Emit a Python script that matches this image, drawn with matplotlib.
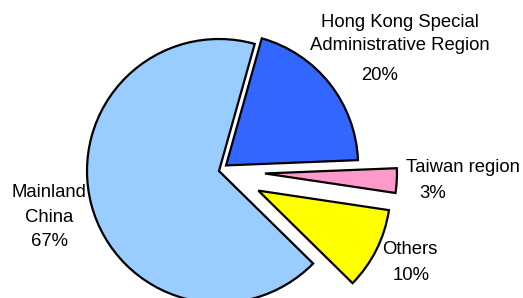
import matplotlib
matplotlib.use('Agg')
import matplotlib.pyplot as plt

plt.rcParams['font.family'] = ['Liberation Sans', 'DejaVu Sans']

# dati (percentuali)
regioni = ['Hong Kong Special\nAdministrative Region', 'Taiwan region', 'Others', 'Mainland\nChina']
valori = [20, 3, 10, 67]
colori = ['#3366FF', '#FF99CC', '#FFFF00', '#99CCFF']
percentuali = ['20%', '3%', '10%', '67%']

fig = plt.figure(figsize=(5.23, 2.98), dpi=100)
ax = fig.add_axes([0, 0, 1, 1])

ax.pie(valori, colors=colori, explode=[9, 46, 44, 0], startangle=74.3,
       counterclock=False, center=(219, 127), radius=132,
       wedgeprops=dict(edgecolor='black', linewidth=1.6), frame=True)
# assi in pixel, origine in basso a sinistra
ax.set_xlim(0, 523)
ax.set_ylim(0, 298)
ax.set_aspect('equal')
ax.axis('off')

# etichette
posizioni_nome = [(400, 264), (463, 131), (410, 48), (49, 93)]
posizioni_perc = [(380, 222), (433, 105), (411, 23), (50, 57)]
interlinea = [1.45, 1.2, 1.2, 1.6]
for nome, perc, pn, pp, il in zip(regioni, percentuali, posizioni_nome, posizioni_perc, interlinea):
    ax.text(pn[0], pn[1], nome, ha='center', va='center', fontsize=13.3, linespacing=il)
    ax.text(pp[0], pp[1], perc, ha='center', va='center', fontsize=13.3)

fig.savefig('out.png', dpi=100)
